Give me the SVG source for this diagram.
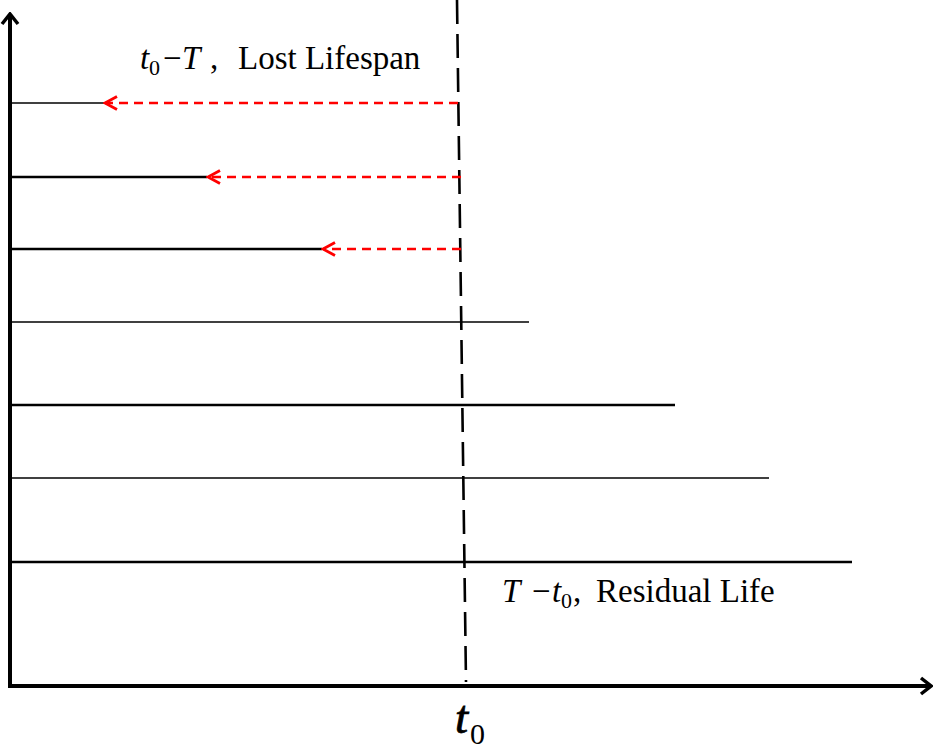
<svg xmlns="http://www.w3.org/2000/svg" width="937" height="749" viewBox="0 0 937 749">
<style>
.axis{stroke:#000;stroke-width:4;fill:none}
.life{stroke:#000;fill:none}
.thin{stroke-width:1.3}
.thick{stroke-width:2.6}
.lost{stroke:#ff0000;stroke-width:2.6;stroke-dasharray:9 6;fill:none}
.t0line{stroke:#000;stroke-width:2.6;stroke-dasharray:24 10;fill:none}
text{font-family:"Liberation Serif","Times New Roman",serif;fill:#000}
.it{font-style:italic}
</style>
<defs>
<marker id="ah" markerWidth="14" markerHeight="20" refX="12" refY="10" orient="auto" markerUnits="userSpaceOnUse">
<path d="M2,2 L12,10 L2,18" stroke="#000" stroke-width="3.5" fill="none"/>
</marker>
<marker id="rh" markerWidth="16" markerHeight="16" refX="14" refY="8" orient="auto" markerUnits="userSpaceOnUse">
<path d="M2,1.5 L14,8 L2,14.5" stroke="#ff0000" stroke-width="2.8" fill="none"/>
</marker>
</defs>
<g id="axes">
<line class="axis" x1="10" y1="688" x2="10" y2="14" marker-end="url(#ah)"/>
<line class="axis" x1="8" y1="686" x2="931" y2="686" marker-end="url(#ah)"/>
</g>
<g id="t0-line">
<line class="t0line" x1="457" y1="0" x2="466" y2="682"/>
</g>
<g id="lifelines">
<line class="life thin" x1="10" y1="103" x2="104" y2="103"/>
<line class="life thick" x1="10" y1="177" x2="207" y2="177"/>
<line class="life thick" x1="10" y1="249" x2="322" y2="249"/>
<line class="life thin" x1="10" y1="322" x2="529" y2="322"/>
<line class="life thick" x1="10" y1="405" x2="675" y2="405"/>
<line class="life thin" x1="10" y1="478" x2="769" y2="478"/>
<line class="life thick" x1="10" y1="562" x2="852" y2="562"/>
</g>
<g id="connectors">
<line class="lost" x1="458" y1="103" x2="105" y2="103" marker-end="url(#rh)"/>
<line class="lost" x1="461" y1="177" x2="208" y2="177" marker-end="url(#rh)"/>
<line class="lost" x1="461" y1="249" x2="323" y2="249" marker-end="url(#rh)"/>
</g>
<g id="label-lost">
<text y="69" font-size="33"><tspan class="it" x="140">t</tspan><tspan font-size="22" x="149" dy="6">0</tspan><tspan x="163" dy="-6">−</tspan><tspan class="it" x="182">T</tspan><tspan x="210">,</tspan><tspan x="238">Lost Lifespan</tspan></text>
</g>
<g id="label-residual">
<text y="602" font-size="33"><tspan class="it" x="502">T</tspan><tspan x="532">−</tspan><tspan class="it" x="552">t</tspan><tspan font-size="22" x="561" dy="6">0</tspan><tspan x="573" dy="-6">,</tspan><tspan x="596">Residual Life</tspan></text>
</g>
<g id="label-t0">
<text y="733" font-size="47"><tspan class="it" x="455" stroke="#000" stroke-width="0.8">t</tspan><tspan font-size="30" x="470" dy="11">0</tspan></text>
</g>
</svg>
